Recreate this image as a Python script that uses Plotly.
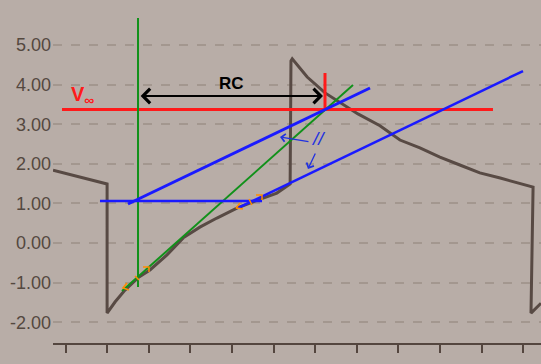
import plotly.graph_objects as go

# ---- waveform (time in tick units, voltage) ----
wave_t = [-0.30, 1.00, 1.00, 1.19, 1.43, 1.74, 2.03, 2.44, 2.83, 3.23, 3.64, 4.12, 4.51, 5.08, 5.40,
          5.42, 5.45, 5.81, 6.24, 6.60, 7.03, 7.56, 8.04, 8.52, 9.00, 9.48, 9.96, 10.45, 11.24,
          11.19, 11.43]
wave_v = [1.84, 1.49, -1.77, -1.49, -1.19, -0.88, -0.68, -0.30, 0.13, 0.40, 0.63, 0.88, 1.04, 1.26, 1.49,
          4.60, 4.65, 4.19, 3.79, 3.54, 3.26, 2.96, 2.60, 2.40, 2.17, 1.97, 1.77, 1.64, 1.41,
          -1.77, -1.52]

# ---- axis ticks ----
y_tickvals = [5, 4, 3, 2, 1, 0, -1, -2]
y_ticktext = ["5.00", "4.00", "3.00", "2.00", "1.00", "0.00", "-1.00", "-2.00"]
x_tickvals = [0, 1, 2, 3, 4, 5, 6, 7, 8, 9, 10, 11]

# ---- construction lines ----
v_inf = 3.37
green_vert_t = [1.743, 1.743]
green_vert_v = [5.68, -1.11]
green_tan_t = [1.358, 6.911]
green_tan_v = [-1.212, 3.990]
blue_h_t = [0.829, 4.724]
blue_h_v = [1.061, 1.061]
blue_up_t = [1.502, 7.320]
blue_up_v = [0.985, 3.914]
blue_low_t = [4.147, 10.998]
blue_low_v = [0.884, 4.343]
red_h_t = [-0.084, 10.276]
red_h_v = [v_inf, v_inf]
red_v_t = [6.238, 6.238]
red_v_v = [4.293, v_inf]
rc_arrow_t = [1.77, 6.19]
rc_arrow_v = 3.712

# small orange tangent-point marks
orange_t = [1.478, 1.382, 1.526, None, 1.671, 1.767, None, 1.863, 2.007, 2.007, None,
            4.195, 4.099, 4.267, None, 4.411, 4.483, None, 4.579, 4.724, 4.724]
orange_v = [-1.010, -1.136, -1.187, None, -0.833, -0.934, None, -0.606, -0.606, -0.732, None,
            1.010, 0.884, 0.859, None, 1.111, 0.960, None, 1.212, 1.212, 1.086]

# parallel-marker arrows (tail -> head)
par_arrows = [((5.877, 2.551), (5.156, 2.677)), ((6.022, 2.298), (5.829, 1.869))]

BG = "#b8ada7"
fig = go.Figure()

def seg(t, v, color, width):
    fig.add_trace(go.Scatter(x=t, y=v, mode="lines", line=dict(color=color, width=width),
                             hoverinfo="skip", showlegend=False))

seg(wave_t, wave_v, "#584a44", 3)
seg(red_h_t, red_h_v, "#ff1a1a", 3)
seg(red_v_t, red_v_v, "#ff1a1a", 3)
seg(green_vert_t, green_vert_v, "#11911a", 2)
seg(green_tan_t, green_tan_v, "#11911a", 2)
seg(blue_h_t, blue_h_v, "#1a1aff", 2.5)
seg(blue_up_t, blue_up_v, "#1a1aff", 3)
seg(blue_low_t, blue_low_v, "#1a1aff", 2.5)
seg(orange_t, orange_v, "#ff8c00", 1.5)

# RC double arrow
fig.add_annotation(x=rc_arrow_t[1], y=rc_arrow_v, ax=rc_arrow_t[0], ay=rc_arrow_v,
                   xref="x", yref="y", axref="x", ayref="y", text="", showarrow=True,
                   arrowhead=4, startarrowhead=4, arrowside="end+start", arrowsize=1.4,
                   startarrowsize=1.4, arrowwidth=2, arrowcolor="#000000",
                   standoff=0, startstandoff=0)
for (tail, head) in par_arrows:
    fig.add_annotation(x=head[0], y=head[1], ax=tail[0], ay=tail[1],
                       xref="x", yref="y", axref="x", ayref="y", text="", showarrow=True,
                       arrowhead=4, arrowsize=1.2, arrowwidth=1.3, arrowcolor="#2030e0",
                       standoff=0, startstandoff=0)

fig.add_annotation(x=4.0, y=4.03, text="<b>RC</b>", showarrow=False,
                   font=dict(family="Liberation Sans", size=17, color="#000000"))
fig.add_annotation(x=0.42, y=3.73, text="<b>V<sub>∞</sub></b>", showarrow=False,
                   font=dict(family="Liberation Sans", size=20, color="#ff1a1a"))
fig.add_annotation(x=6.08, y=2.64, text="<i>//</i>", showarrow=False,
                   font=dict(family="Liberation Sans", size=19, color="#2030e0"))

fig.update_layout(
    width=541, height=364,
    margin=dict(l=53, r=0, t=0, b=21),
    paper_bgcolor=BG, plot_bgcolor=BG,
    showlegend=False,
    xaxis=dict(range=[-0.3005, 11.4303], tickvals=x_tickvals, showticklabels=False,
               showgrid=False, zeroline=False, showline=True, linecolor="#54463f", linewidth=2,
               ticks="outside", ticklen=8, tickwidth=2, tickcolor="#54463f", fixedrange=True),
    yaxis=dict(range=[-2.525, 6.136], tickvals=y_tickvals, ticktext=y_ticktext,
               showgrid=True, gridcolor="#a3978f", gridwidth=1.5, griddash="dash",
               zeroline=False, showline=False, ticks="", ticklabelstandoff=1,
               tickfont=dict(family="Liberation Sans", size=18, color="#54483f"), fixedrange=True),
)

fig.write_html("out.html")
